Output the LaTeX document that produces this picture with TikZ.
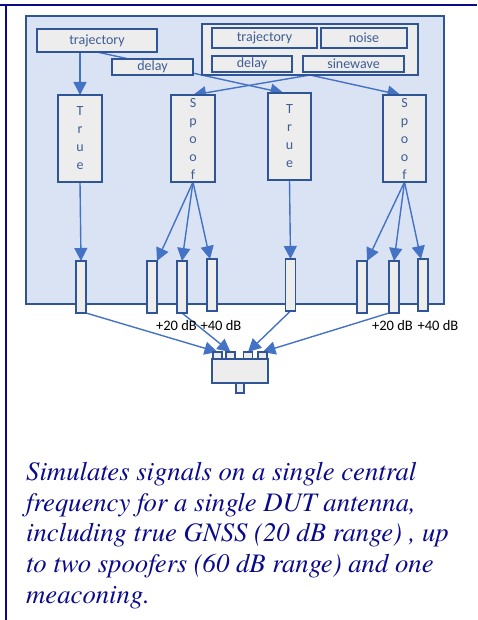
\documentclass[tikz,border=0pt]{standalone}
\usepackage{fontspec}
\newfontfamily\boxfont{Carlito}
\newfontfamily\descfont{texgyretermes}[Extension=.otf,UprightFont=*-regular,ItalicFont=*-italic,BoldFont=*-bold,BoldItalicFont=*-bolditalic]
\usetikzlibrary{arrows.meta}
\definecolor{panelfill}{HTML}{DAE3F3}
\definecolor{edgec}{HTML}{2F5597}
\definecolor{boxfill}{HTML}{EDEDED}
\definecolor{arrowc}{HTML}{4472C4}
\definecolor{navyc}{HTML}{0A0A8A}
\definecolor{labc}{HTML}{3F5E96}
\pgfdeclarelayer{bg}
\pgfdeclarelayer{lines}
\pgfsetlayers{bg,lines,main}
\tikzset{
  box/.style={draw=edgec, fill=boxfill, line width=1.1pt, inner sep=0pt, outer sep=0pt,
    font=\boxfont\fontsize{14}{18}\selectfont, text=labc, align=center},
  bar/.style={box, minimum width=10pt, minimum height=52pt},
  port/.style={box, minimum width=9pt, minimum height=7pt},
  arr/.style={draw=arrowc, line width=1.4pt, -{Triangle[length=13pt,width=13pt]}},
  dblab/.style={font=\boxfont\fontsize{14.5}{16}\selectfont, text=black, inner sep=0pt},
  frame/.style={draw=navyc, line width=2pt}
}
\begin{document}
\begin{tikzpicture}[x=1pt,y=-1pt]
\useasboundingbox (0,0) rectangle (477,620);
\draw[frame] (0,5) coordinate (ftl) -- (477,5) coordinate (ftr);
\draw[frame] (6,5) coordinate (fl1) -- (6,620) coordinate (fl2);
\begin{pgfonlayer}{bg}
\node[draw=edgec, fill=panelfill, line width=1.1pt, minimum width=418pt, minimum height=288pt, inner sep=0pt] (panel) at (235,160) {};
\end{pgfonlayer}
% top left inputs
\node[box, minimum width=120pt, minimum height=23pt] (traj1) at (97,40.5) {trajectory};
\node[box, minimum width=81pt, minimum height=16pt] (dly1) at (152.5,67) {delay};
% right group
\node[box, minimum width=216pt, minimum height=51pt] (grp) at (310,49.5) {};
\node[box, minimum width=105pt, minimum height=20pt] (traj2) at (264.5,38) {trajectory};
\node[box, minimum width=86pt, minimum height=20pt] (noise) at (364,38) {noise};
\node[box, minimum width=80pt, minimum height=16pt] (dly2) at (252,64) {delay};
\node[box, minimum width=101pt, minimum height=16pt] (sine) at (353.5,64) {sinewave};
% generators
\node[box, minimum width=44pt, minimum height=87pt] (true1) at (80,138.5) {T\\r\\u\\e};
\node[box, minimum width=44pt, minimum height=87pt] (spoof1) at (193,138.5) {S\\p\\o\\o\\f};
\node[box, minimum width=43pt, minimum height=87pt] (true2) at (289.5,136.5) {T\\r\\u\\e};
\node[box, minimum width=43pt, minimum height=87pt] (spoof2) at (404.5,138.5) {S\\p\\o\\o\\f};
% attenuator bars
\node[bar] (b1) at (81,287) {};
\node[bar] (b2) at (152,287) {};
\node[bar] (b3) at (182,287) {};
\node[bar] (b4) at (212,285) {};
\node[bar] (b5) at (290.5,285) {};
\node[bar] (b6) at (362,287) {};
\node[bar] (b7) at (394,287) {};
\node[bar] (b8) at (423,285) {};
% labels
\node[dblab] (l1) at (176.5,326) {+20 dB};
\node[dblab] (l2) at (221,326) {+40 dB};
\node[dblab] (l3) at (392.5,326) {+20 dB};
\node[dblab] (l4) at (438,326) {+40 dB};
% combiner
\node[box, minimum width=56pt, minimum height=24pt] (comb) at (240,371) {};
\node[port] (p1) at (217.5,355.5) {};
\node[port] (p2) at (230.5,355.5) {};
\node[port] (p3) at (248,355.5) {};
\node[port] (p4) at (262.5,355.5) {};
\node[box, minimum width=8pt, minimum height=10pt] (pout) at (240,388) {};
% connectors
\begin{pgfonlayer}{lines}
\draw[arr] (true1.north |- traj1.south) -- (true1.north);
\draw[arr] (traj1.south) -- ([xshift=-6pt]true2.north);
\draw[arr] (grp.south) -- (spoof1.north);
\draw[arr] (grp.south) -- ([xshift=-4pt]spoof2.north);
\draw[arr] (true1.south) -- (b1.north);
\draw[arr] (spoof1.south) -- (b2.north east);
\draw[arr] (spoof1.south) -- (b3.north);
\draw[arr] (spoof1.south) -- ([xshift=-2pt]b4.north);
\draw[arr] (true2.south) -- (b5.north);
\draw[arr] (spoof2.south) -- (b6.north east);
\draw[arr] (spoof2.south) -- (b7.north);
\draw[arr] (spoof2.south) -- ([xshift=-2pt]b8.north);
\draw[arr] (b1.south east) -- (p1.north);
\draw[arr] (b3.south) -- (p2.north);
\draw[arr] (b5.south) -- (p3.north);
\draw[arr] (b7.south west) -- (p4.north);
\end{pgfonlayer}
% description
\node[anchor=north west, inner sep=0pt, align=left, text=navyc,
  font=\descfont\itshape\fontsize{26.7}{30.7}\selectfont] (desc) at (26,462)
  {Simulates signals on a single central\\frequency for a single DUT antenna,\\including true GNSS (20 dB range) , up\\to two spoofers (60 dB range) and one\\meaconing.};
\end{tikzpicture}
\end{document}
